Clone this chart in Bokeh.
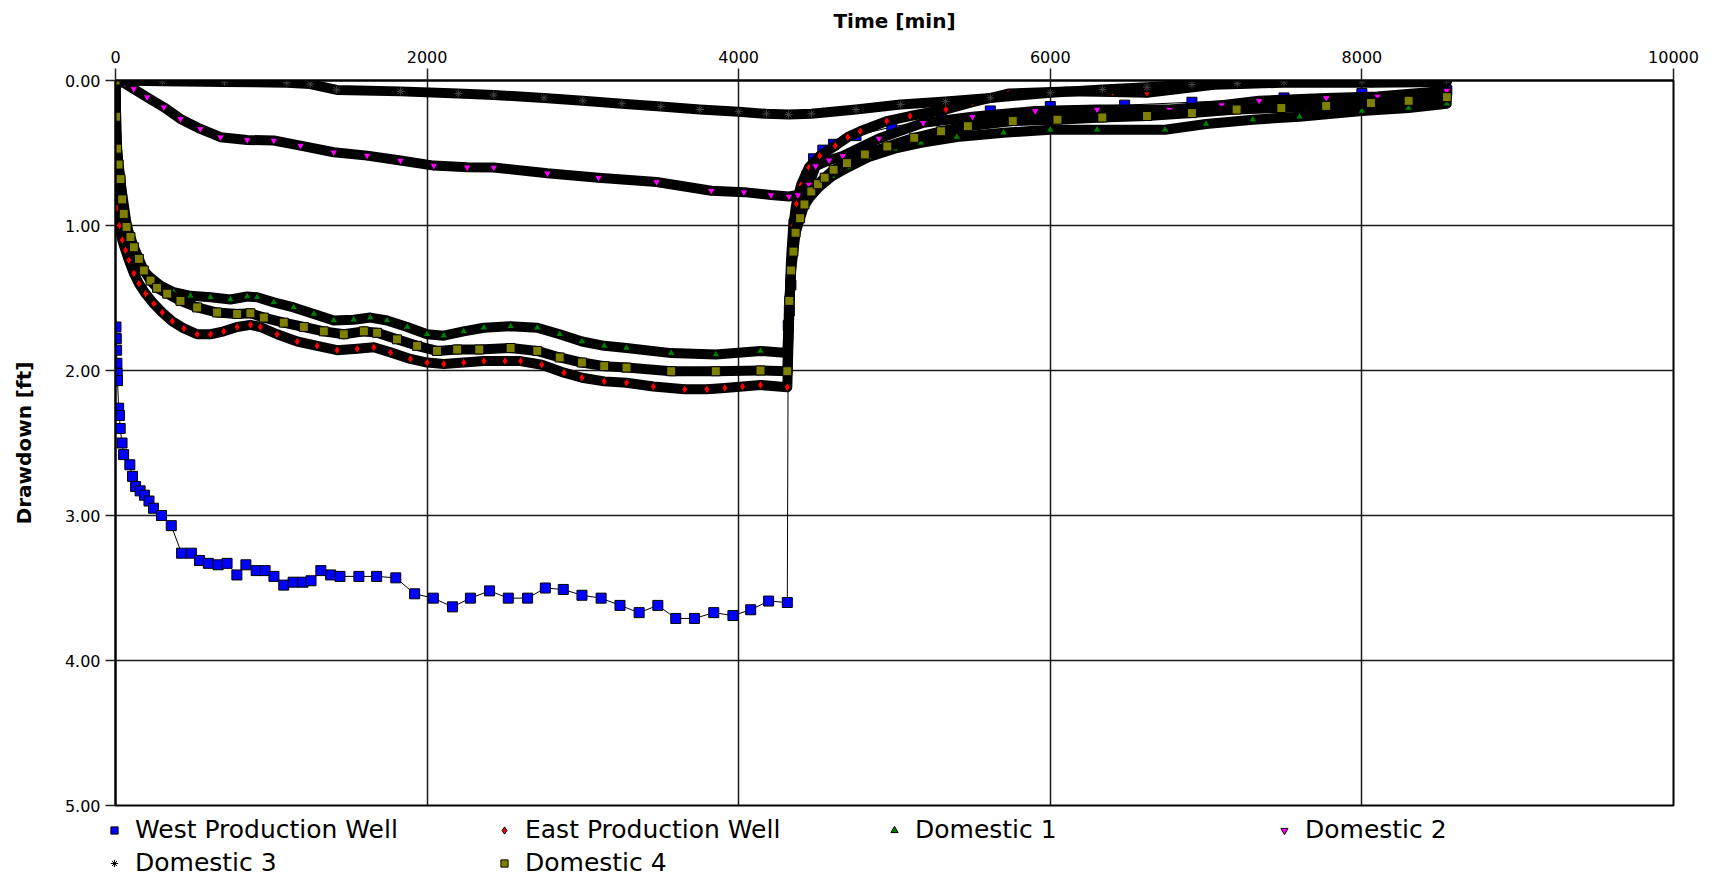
from bokeh.plotting import figure
from bokeh.layouts import column
from bokeh.models import Range1d, Legend, LegendItem, FixedTicker, NumeralTickFormatter
from bokeh.embed import file_html
from bokeh.resources import INLINE

# ---------------- data ----------------
x_ticks = [0, 2000, 4000, 6000, 8000, 10000]
y_ticks = [0, 1, 2, 3, 4, 5]

west_t = [3, 5, 7, 9, 11, 13, 20, 25, 30, 42, 52, 92, 109, 129, 158, 186, 215, 244, 295, 358,
          424, 487, 539, 596, 659, 716, 779, 837, 903, 960, 1017, 1080, 1140, 1203, 1255, 1318,
          1381, 1441, 1562, 1676, 1799, 1920, 2040, 2163, 2278, 2401, 2521, 2645, 2759, 2874,
          2994, 3117, 3238, 3361, 3481, 3596, 3716, 3840, 3963, 4077, 4192, 4312,
          4318, 4325, 4335, 4345, 4355, 4370, 4395, 4437, 4480, 4540, 4609, 4753, 4983, 5300,
          5615, 6000, 6477, 6909, 7500, 8000, 8545]
west_dd = [1.70, 1.78, 1.86, 1.95, 2.02, 2.07, 2.26, 2.31, 2.40, 2.50, 2.58, 2.65, 2.73, 2.80,
           2.83, 2.86, 2.90, 2.95, 3.00, 3.07, 3.26, 3.26, 3.31, 3.33, 3.34, 3.33, 3.41, 3.34,
           3.38, 3.38, 3.42, 3.48, 3.46, 3.46, 3.45, 3.38, 3.41, 3.42, 3.42, 3.42, 3.43, 3.54,
           3.57, 3.63, 3.57, 3.52, 3.57, 3.57, 3.50, 3.51, 3.55, 3.57, 3.62, 3.67, 3.62, 3.71,
           3.71, 3.67, 3.69, 3.65, 3.59, 3.60,
           1.69, 1.59, 1.41, 1.18, 0.99, 0.90, 0.81, 0.66, 0.54, 0.48, 0.44, 0.38, 0.32, 0.26,
           0.21, 0.18, 0.17, 0.15, 0.12, 0.09, 0.07]

east_t = [0, 3, 10, 25, 43, 64, 86, 118, 150, 193, 246, 300, 364, 439, 524, 610, 695, 781, 866,
          930, 1037, 1166, 1294, 1422, 1551, 1658, 1765, 1893, 2000, 2107, 2235, 2364, 2500,
          2600, 2736, 2879, 2994, 3137, 3280, 3452, 3653, 3796, 3911, 4025, 4140, 4312,
          4325, 4335, 4350, 4370, 4400, 4450, 4520, 4620, 4700, 4780, 4950, 5100, 5330, 5500,
          5730, 6100, 6400, 6620, 7050, 7480, 8060, 8545]
east_dd = [0.0, 0.60, 0.88, 1.00, 1.10, 1.17, 1.24, 1.33, 1.40, 1.47, 1.54, 1.60, 1.66, 1.71,
           1.75, 1.75, 1.73, 1.70, 1.685, 1.70, 1.75, 1.80, 1.83, 1.86, 1.85, 1.84, 1.875, 1.92,
           1.945, 1.955, 1.945, 1.935, 1.935, 1.935, 1.96, 2.015, 2.05, 2.075, 2.085, 2.11,
           2.13, 2.13, 2.12, 2.11, 2.10, 2.115,
           1.60, 1.25, 1.00, 0.85, 0.72, 0.60, 0.52, 0.45, 0.39, 0.35, 0.28, 0.245, 0.20, 0.15,
           0.09, 0.075, 0.08, 0.085, 0.03, 0.016, 0.016, 0.01]

dom1_t = [0, 5, 12, 21, 43, 70, 100, 130, 160, 225, 289, 374, 481, 610, 738, 845, 909, 1016,
          1144, 1273, 1401, 1529, 1636, 1743, 1872, 2000, 2107, 2235, 2364, 2536, 2707, 2851,
          2994, 3137, 3280, 3567, 3853, 4140, 4312,
          4325, 4340, 4355, 4380, 4410, 4460, 4520, 4600, 4700, 4830, 5000, 5170, 5400, 5700,
          6000, 6300, 6736, 7000, 7300, 7600, 8000, 8300, 8545]
dom1_dd = [0.0, 0.35, 0.50, 0.61, 0.78, 0.98, 1.12, 1.22, 1.29, 1.36, 1.415, 1.46, 1.485,
           1.495, 1.51, 1.49, 1.495, 1.53, 1.565, 1.61, 1.655, 1.65, 1.635, 1.655, 1.70, 1.75,
           1.76, 1.73, 1.705, 1.695, 1.705, 1.75, 1.80, 1.83, 1.845, 1.88, 1.89, 1.865, 1.88,
           1.55, 1.25, 1.10, 0.97, 0.88, 0.80, 0.73, 0.66, 0.60, 0.53, 0.47, 0.43, 0.39, 0.36,
           0.34, 0.34, 0.34, 0.30, 0.27, 0.25, 0.21, 0.19, 0.16]

dom2_t = [0, 60, 117, 203, 310, 417, 545, 674, 845, 1016, 1187, 1401, 1615, 1829, 2043, 2257,
          2428, 2772, 3100, 3473, 3824, 4034, 4207, 4322,
          4380, 4451, 4494, 4580, 4667, 4900, 5184, 5500, 5903, 6300, 6765, 7100, 7340, 7771,
          8100, 8545]
dom2_dd = [0.0, 0.02, 0.058, 0.115, 0.184, 0.265, 0.334, 0.391, 0.41, 0.414, 0.449, 0.495,
           0.518, 0.552, 0.587, 0.599, 0.60, 0.64, 0.67, 0.70, 0.76, 0.77, 0.79, 0.80,
           0.79, 0.717, 0.59, 0.55, 0.52, 0.40, 0.292, 0.25, 0.21, 0.20, 0.20, 0.17, 0.14,
           0.12, 0.11, 0.07]

dom3_t = [0, 300, 700, 1100, 1250, 1420, 1829, 2200, 2428, 2750, 3000, 3250, 3500, 3750, 4000,
          4178, 4320, 4466, 4753, 5040, 5328, 5615, 6000, 6334, 6621, 6909, 7200, 7500, 8000,
          8545]
dom3_dd = [0.0, 0.005, 0.01, 0.015, 0.025, 0.065, 0.075, 0.09, 0.10, 0.12, 0.14, 0.16, 0.18,
           0.20, 0.215, 0.23, 0.235, 0.23, 0.20, 0.165, 0.145, 0.12, 0.085, 0.062, 0.046,
           0.028, 0.02, 0.01, 0.005, 0.0]

dom4_t = [0, 4, 10, 20, 32, 43, 53, 71, 96, 118, 150, 182, 225, 267, 332, 417, 524, 652, 781,
          866, 952, 1080, 1209, 1337, 1465, 1594, 1679, 1807, 1936, 2064, 2193, 2335, 2536,
          2707, 2851, 2994, 3137, 3280, 3567, 3853, 4140, 4312,
          4325, 4336, 4351, 4365, 4394, 4422, 4466, 4509, 4552, 4609, 4695, 4810, 4954, 5127,
          5299, 5471, 5759, 6046, 6334, 6621, 6909, 7196, 7483, 7771, 8058, 8300, 8545]
dom4_dd = [0.0, 0.25, 0.47, 0.58, 0.68, 0.82, 0.92, 1.01, 1.08, 1.15, 1.23, 1.31, 1.38, 1.43,
           1.47, 1.52, 1.565, 1.60, 1.61, 1.605, 1.635, 1.67, 1.70, 1.73, 1.75, 1.73, 1.74,
           1.785, 1.83, 1.865, 1.855, 1.855, 1.845, 1.865, 1.91, 1.945, 1.97, 1.98, 2.005,
           2.005, 2.0, 2.005,
           1.52, 1.31, 1.18, 1.05, 0.95, 0.855, 0.765, 0.715, 0.67, 0.615, 0.57, 0.51, 0.455,
           0.395, 0.35, 0.315, 0.28, 0.27, 0.255, 0.245, 0.225, 0.20, 0.19, 0.175, 0.155, 0.14,
           0.115]

series_names = ["West Production Well", "East Production Well", "Domestic 1",
                "Domestic 2", "Domestic 3", "Domestic 4"]
series_markers = ["square", "diamond", "triangle", "inverted_triangle", "asterisk", "square"]
series_colors = ["#0000ff", "#ff0000", "#008000", "#ff00ff", "black", "#808000"]

# ---------------- main figure ----------------
FONT = "DejaVu Sans"
p = figure(width=1715, height=815, output_backend="svg", toolbar_location=None,
           x_range=Range1d(0, 10000), y_range=Range1d(5, 0), x_axis_location="above",
           min_border_left=115, min_border_right=42, min_border_top=80, min_border_bottom=10,
           background_fill_color="white", border_fill_color="white")

p.outline_line_color = "black"
p.outline_line_width = 2

p.xaxis.ticker = FixedTicker(ticks=x_ticks)
p.yaxis.ticker = FixedTicker(ticks=y_ticks)
p.yaxis.formatter = NumeralTickFormatter(format="0.00")

for ax in (p.xaxis, p.yaxis):
    ax.axis_line_color = "black"
    ax.axis_line_width = 2
    ax.major_tick_line_color = "#222222"
    ax.major_tick_line_width = 1.5
    ax.major_tick_in = 0
    ax.minor_tick_line_color = None
    ax.major_label_text_font = FONT
    ax.major_label_text_font_size = "16px"
    ax.major_label_text_color = "black"
    ax.axis_label_text_font = FONT
    ax.axis_label_text_font_size = "20px"
    ax.axis_label_text_font_style = "bold"
    ax.axis_label_text_color = "black"

p.xaxis.major_tick_out = 12
p.yaxis.major_tick_out = 10
p.xaxis.major_label_standoff = 6
p.yaxis.major_label_standoff = 5
p.xaxis.axis_label = "Time [min]"
p.yaxis.axis_label = "Drawdown [ft]"
p.xaxis.axis_label_standoff = 15
p.yaxis.axis_label_standoff = 26

for g in (p.xgrid, p.ygrid):
    g.grid_line_color = "#1a1a1a"
    g.grid_line_width = 1.5

# West Production Well: discrete squares joined by a thin line
p.line(west_t, west_dd, line_color="black", line_width=1)
p.scatter(west_t, west_dd, marker="square", size=10, fill_color="#0000ff",
          line_color="black", line_width=1)

dense = [
    (east_t, east_dd, "diamond", "#ff0000", 9),
    (dom1_t, dom1_dd, "triangle", "#008000", 8),
    (dom2_t, dom2_dd, "inverted_triangle", "#ff00ff", 8),
    (dom3_t, dom3_dd, "asterisk", "black", 8),
    (dom4_t, dom4_dd, "square", "#808000", 9),
]
for t, dd, marker, color, size in dense:
    p.line(t, dd, line_color="black", line_width=10, line_join="round", line_cap="round")
    p.scatter(t, dd, marker=marker, size=size, fill_color=color,
              line_color="black" if marker != "asterisk" else "#444444", line_width=1)

# ---------------- legend strip below the chart ----------------
lg = figure(width=1715, height=62, output_backend="svg", toolbar_location=None,
            x_range=Range1d(0, 1), y_range=Range1d(0, 1),
            x_axis_location=None, y_axis_location=None,
            min_border_left=105, min_border_right=0, min_border_top=0, min_border_bottom=0,
            background_fill_color="white", border_fill_color="white")
lg.outline_line_color = None
lg.xgrid.visible = False
lg.ygrid.visible = False

items = []
for name, marker, color in zip(series_names, series_markers, series_colors):
    # placeholder renderer (no visible point) that only supplies the legend glyph
    r = lg.scatter(x=[float("nan")], y=[float("nan")], marker=marker, size=8,
                   fill_color=color, line_color="black", line_width=1)
    items.append(LegendItem(label=name, renderers=[r]))

legend = Legend(items=items, orientation="horizontal", ncols=4, location="top_left",
                label_text_font=FONT, label_text_font_size="25px", label_text_color="black",
                label_width=356, label_height=29, glyph_width=18, glyph_height=18,
                label_standoff=12, spacing=4, padding=0, margin=0,
                border_line_alpha=0, background_fill_alpha=0)
lg.add_layout(legend, "center")

layout = column(p, column(lg, spacing=0), spacing=0)
open("out.html", "w").write(file_html(layout, INLINE))
